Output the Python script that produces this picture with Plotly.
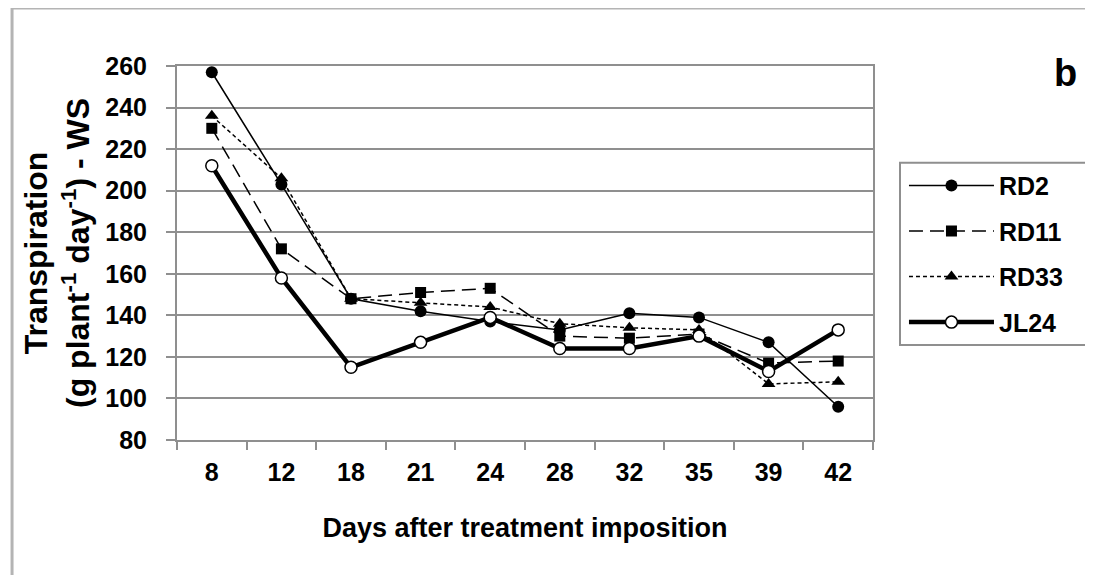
import plotly.graph_objects as go

# days after treatment (category axis)
days = ["8", "12", "18", "21", "24", "28", "32", "35", "39", "42"]

# transpiration (g plant-1 day-1) under water stress
rd2 = [257, 203, 148, 142, 137, 133, 141, 139, 127, 96]
rd11 = [230, 172, 148, 151, 153, 130, 129, 131, 117, 118]
rd33 = [236, 206, 148, 146, 144, 136, 134, 133, 107, 108]
jl24 = [212, 158, 115, 127, 139, 124, 124, 130, 113, 133]

FONT = "Liberation Sans, Arial, sans-serif"
GRID = "#8f8f8f"

fig = go.Figure()

series = [
    ("RD2", rd2, dict(color="black", width=1.5, dash="solid"),
     dict(symbol="circle", size=12, color="black")),
    ("RD11", rd11, dict(color="black", width=1.5, dash="14px,7px"),
     dict(symbol="square", size=11, color="black")),
    ("RD33", rd33, dict(color="black", width=1.5, dash="4px,3px"),
     dict(symbol="triangle-up", size=12, color="black")),
    ("JL24", jl24, dict(color="black", width=4.5, dash="solid"),
     dict(symbol="circle", size=12, color="white",
          line=dict(color="black", width=1.5))),
]

for name, vals, line, marker in series:
    fig.add_trace(go.Scatter(
        x=days, y=vals, name=name, legendgroup=name,
        mode="lines+markers", line=line, marker=marker,
    ))

fig.update_xaxes(
    type="category", range=[-0.5, len(days) - 0.5],
    title=dict(text="Days after treatment imposition",
               font=dict(size=27, family=FONT, weight="bold"), standoff=33),
    tickfont=dict(size=25, family=FONT, weight="bold"),
    ticks="outside", tickson="boundaries", ticklen=8, tickcolor=GRID,
    tickwidth=2, showline=True, linecolor=GRID, linewidth=2, mirror=True,
    showgrid=False, ticklabelstandoff=9,
)

fig.update_yaxes(
    range=[80, 260], dtick=20,
    title=dict(text="Transpiration<br>(g plant<sup>-1</sup> day<sup>-1</sup>) - WS",
               font=dict(size=32, family=FONT, weight="bold"), standoff=6),
    tickfont=dict(size=25, family=FONT, weight="bold"),
    ticks="outside", ticklen=9, tickcolor=GRID, tickwidth=2,
    showline=True, linecolor=GRID, linewidth=2, mirror=True,
    showgrid=True, gridcolor=GRID, gridwidth=2, zeroline=False,
    ticklabelstandoff=14,
)

# outer frame of the figure panel
fig.add_shape(type="rect", xref="paper", yref="paper",
              x0=-0.237, x1=1.35, y0=-0.45, y1=1.155,
              line=dict(color="#b4b4b4", width=3), layer="below")

# legend frame (runs off the right edge like the original)
fig.add_shape(type="rect", xref="paper", yref="paper",
              x0=1.0388, x1=1.35, y0=0.254, y1=0.741,
              line=dict(color=GRID, width=2), layer="below")

fig.add_annotation(text="b", xref="paper", yref="paper", x=1.277, y=0.981,
                   xanchor="center", yanchor="middle",
                   showarrow=False, font=dict(size=38, family=FONT, weight="bold"))

# page body adds an 8px margin; keep the figure inside the window
fig.update_layout(
    width=1077, height=567,
    margin=dict(l=169, r=212, t=58, b=135),
    plot_bgcolor="white", paper_bgcolor="white",
    font=dict(family=FONT, color="black", weight="bold"),
    showlegend=True,
    legend=dict(x=1.0445, y=0.741, xanchor="left", yanchor="top",
                borderwidth=0, bgcolor="rgba(0,0,0,0)",
                font=dict(size=25, family=FONT, weight="bold"),
                tracegroupgap=10, itemwidth=85),
)

fig.write_html("out.html")
